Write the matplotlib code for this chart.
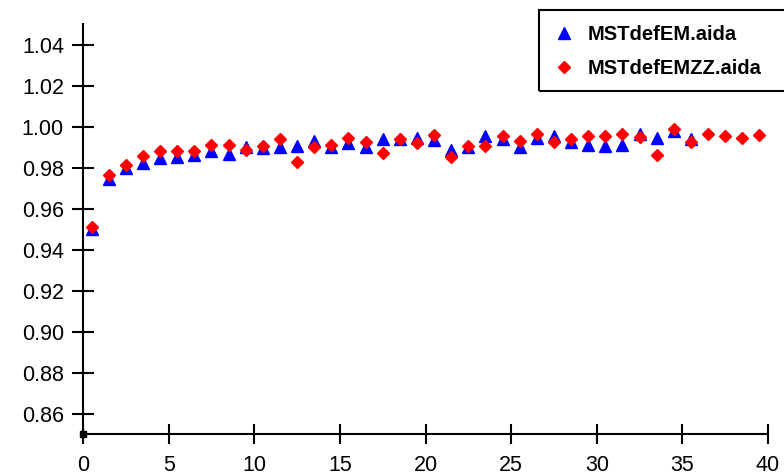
import matplotlib.pyplot as plt
from matplotlib.patches import Rectangle

# Bin centres and efficiency values
x_em = [0.5, 1.5, 2.5, 3.5, 4.5, 5.5, 6.5, 7.5, 8.5, 9.5,
        10.5, 11.5, 12.5, 13.5, 14.5, 15.5, 16.5, 17.5, 18.5, 19.5,
        20.5, 21.5, 22.5, 23.5, 24.5, 25.5, 26.5, 27.5, 28.5, 29.5,
        30.5, 31.5, 32.5, 33.5, 34.5, 35.5]
y_em = [0.950, 0.9744, 0.980, 0.982, 0.9845, 0.985, 0.9863, 0.9883, 0.9866, 0.990,
        0.9894, 0.990, 0.9907, 0.993, 0.9899, 0.9918, 0.9899, 0.9937, 0.994, 0.9944,
        0.9935, 0.9888, 0.9899, 0.9956, 0.9937, 0.990, 0.9943, 0.9956, 0.9923, 0.991,
        0.9907, 0.9911, 0.9964, 0.9943, 0.9977, 0.9937]

x_emzz = [0.5, 1.5, 2.5, 3.5, 4.5, 5.5, 6.5, 7.5, 8.5, 9.5,
          10.5, 11.5, 12.5, 13.5, 14.5, 15.5, 16.5, 17.5, 18.5, 19.5,
          20.5, 21.5, 22.5, 23.5, 24.5, 25.5, 26.5, 27.5, 28.5, 29.5,
          30.5, 31.5, 32.5, 33.5, 34.5, 35.5, 36.5, 37.5, 38.5, 39.5]
y_emzz = [0.951, 0.9763, 0.9812, 0.9855, 0.9879, 0.9882, 0.9879, 0.991, 0.991, 0.9886,
          0.9907, 0.994, 0.9825, 0.990, 0.991, 0.9943, 0.9923, 0.987, 0.9937, 0.9918,
          0.996, 0.985, 0.9907, 0.9903, 0.9956, 0.993, 0.9962, 0.9927, 0.994, 0.9956,
          0.9953, 0.9964, 0.9951, 0.9861, 0.9989, 0.9923, 0.9966, 0.9955, 0.9943, 0.996]

x_ticks = [0, 5, 10, 15, 20, 25, 30, 35, 40]
y_ticks = [0.86, 0.88, 0.90, 0.92, 0.94, 0.96, 0.98, 1.00, 1.02, 1.04]

plt.rcParams['font.family'] = ['Liberation Sans', 'DejaVu Sans']

fig = plt.figure(figsize=(7.84, 4.75), dpi=100)
ax = fig.add_axes([0.1059, 0.0857, 0.8737, 0.8638])

ax.plot(x_em, y_em, linestyle='none', marker='^', ms=9, color='#0000ff',
        label='MSTdefEM.aida')
ax.plot(x_emzz, y_emzz, linestyle='none', marker='D', ms=6, color='#ff0000',
        label='MSTdefEMZZ.aida')

# little square at the origin
ax.plot([0], [0.85], marker='s', ms=4, color='black', clip_on=False)

ax.set_xlim(0, 40)
ax.set_ylim(0.85, 1.05)
ax.set_xticks(x_ticks)
ax.set_yticks(y_ticks)
ax.set_yticklabels(['%.2f' % v for v in y_ticks])

for side in ['top', 'right']:
    ax.spines[side].set_visible(False)
for side in ['left', 'bottom']:
    ax.spines[side].set_linewidth(1.5)

ax.tick_params(axis='y', direction='inout', length=16.5, width=1.5,
               pad=5.5, labelsize=15.5)
ax.tick_params(axis='x', direction='inout', length=14.5, width=1.5,
               pad=7.5, labelsize=15.5)

# legend box runs off the right edge of the picture
fig.patches.append(Rectangle((539 / 784, 1 - 91 / 475), 0.4, 81 / 475,
                             transform=fig.transFigure, fill=False,
                             edgecolor='black', linewidth=1.5))
fig.legend(loc='upper left', bbox_to_anchor=(551 / 784, 1 - 25 / 475),
           borderaxespad=0, frameon=False,
           prop={'weight': 'bold', 'size': 14.5},
           handletextpad=0.5, borderpad=0.0, labelspacing=0.75,
           handlelength=1.3)

plt.savefig('out.png', dpi=100)
